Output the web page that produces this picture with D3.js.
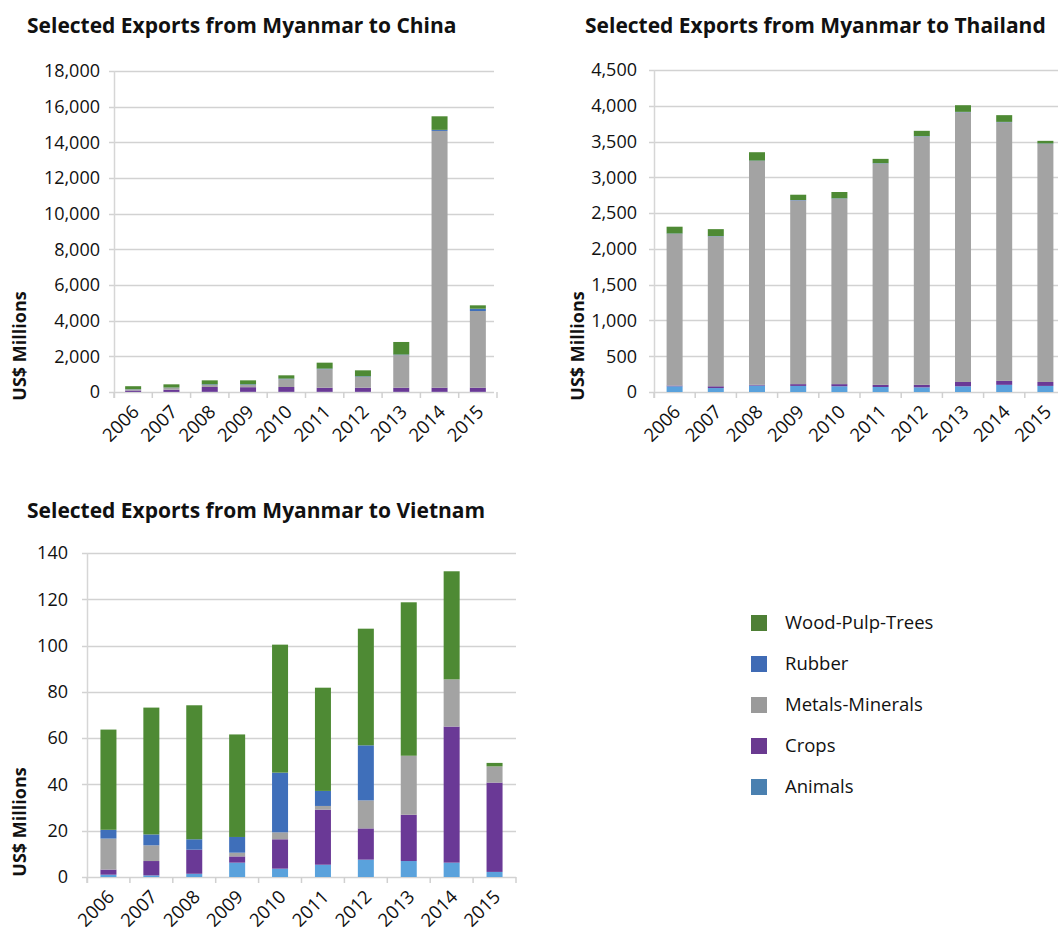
<!DOCTYPE html>
<html>
<head>
<meta charset="utf-8">
<script src="https://cdn.jsdelivr.net/npm/d3@7"></script>
<style>
  html, body { margin: 0; padding: 0; background: #ffffff; }
  svg { display: block; }
  text { font-family: "Open Sans", "Noto Sans", sans-serif; fill: #111; }
</style>
</head>
<body>
<svg id="chart" width="1058" height="934"></svg>
<script>
// ---------- DATA ----------
const years = ["2006","2007","2008","2009","2010","2011","2012","2013","2014","2015"];
const seriesNames = ["Animals","Crops","Metals-Minerals","Rubber","Wood-Pulp-Trees"]; // stack order bottom -> top
const seriesColors = ["#5aa2dc","#6a3996","#a3a3a3","#3f6fba","#4e8a34"];
const legendNames = ["Wood-Pulp-Trees","Rubber","Metals-Minerals","Crops","Animals"];
const legendColors = ["#4e7f35","#3f6bb5","#9a9a9a","#6a3a90","#4a80b0"];

// China (US$ millions)
const chinaAnimals = [5, 5, 10, 10, 10, 10, 10, 10, 10, 10];
const chinaCrops   = [80, 125, 270, 260, 270, 230, 230, 230, 230, 230];
const chinaMetals  = [60, 110, 120, 130, 440, 1040, 610, 1830, 14400, 4300];
const chinaRubber  = [10, 10, 30, 30, 30, 30, 30, 30, 60, 130];
const chinaWood    = [170, 180, 224, 224, 185, 335, 335, 705, 760, 190];
const chinaTicks   = [0, 2000, 4000, 6000, 8000, 10000, 12000, 14000, 16000, 18000];

// Thailand (US$ millions)
const thaiAnimals = [80, 55, 90, 85, 80, 70, 65, 80, 100, 85];
const thaiCrops   = [10, 25, 10, 25, 30, 30, 35, 60, 55, 55];
const thaiMetals  = [2120, 2093, 3129, 2568, 2591, 3092, 3470, 3770, 3615, 3328];
const thaiRubber  = [5, 5, 5, 5, 5, 5, 5, 5, 5, 5];
const thaiWood    = [95, 98, 117, 74, 89, 61, 75, 93, 94, 37];
const thaiTicks   = [0, 500, 1000, 1500, 2000, 2500, 3000, 3500, 4000, 4500];

// Vietnam (US$ millions)
const vietAnimals = [1.0, 0.7, 1.4, 6.2, 3.6, 5.3, 7.5, 6.9, 6.2, 2.2];
const vietCrops   = [2.2, 6.2, 10.4, 2.7, 12.7, 23.8, 13.5, 20.0, 58.8, 38.6];
const vietMetals  = [13.4, 6.8, 0.0, 1.6, 3.0, 1.6, 12.1, 25.5, 20.4, 7.0];
const vietRubber  = [3.8, 4.7, 4.5, 6.8, 25.8, 6.5, 23.8, 0.0, 0.0, 0.0];
const vietWood    = [43.3, 54.8, 57.9, 44.3, 55.3, 44.6, 50.4, 66.3, 46.7, 1.5];
const vietTicks   = [0, 20, 40, 60, 80, 100, 120, 140];

// ---------- DRAW ----------
const svg = d3.select("#chart");
const fmt = d3.format(",");

function drawChart(cfg) {
  const g = svg.append("g");
  const rows = years.map((yr, i) => {
    const r = { year: yr };
    seriesNames.forEach((s, k) => { r[s] = cfg.series[k][i]; });
    return r;
  });
  const stack = d3.stack().keys(seriesNames)(rows);

  const x = d3.scaleBand().domain(years).range([cfg.x0, cfg.x1]).paddingInner(0).paddingOuter(0);
  const y = d3.scaleLinear().domain([0, d3.max(cfg.ticks)]).range([cfg.y0, cfg.y1]);
  const barW = 16;

  // title
  g.append("text").attr("x", cfg.titleX).attr("y", cfg.titleY)
    .attr("font-size", 21).attr("font-weight", 700).text(cfg.title);

  // gridlines
  g.append("g").selectAll("line").data(cfg.ticks).join("line")
    .attr("x1", cfg.x0 - 5).attr("x2", cfg.gridEnd)
    .attr("y1", d => Math.round(y(d)) + 0.5).attr("y2", d => Math.round(y(d)) + 0.5)
    .attr("stroke", "#d2d2d2").attr("stroke-width", 1.5);

  // y axis line
  g.append("line").attr("x1", cfg.x0 + 0.5).attr("x2", cfg.x0 + 0.5)
    .attr("y1", cfg.y1).attr("y2", cfg.y0 + 6)
    .attr("stroke", "#d6d6d6").attr("stroke-width", 1.5);

  // y tick labels
  g.append("g").selectAll("text").data(cfg.ticks).join("text")
    .attr("x", cfg.labelRight).attr("y", d => y(d)).attr("dy", "0.35em")
    .attr("text-anchor", "end").attr("font-size", 18)
    .text(d => fmt(d));

  // x ticks
  const edges = years.map(yr => x(yr)).concat([cfg.x1]);
  g.append("g").selectAll("line").data(edges).join("line")
    .attr("x1", d => d).attr("x2", d => d)
    .attr("y1", cfg.y0).attr("y2", cfg.y0 + 6)
    .attr("stroke", "#d0d0d0").attr("stroke-width", 1.5);

  // bars
  g.append("g").selectAll("g").data(stack).join("g")
    .attr("fill", (d, k) => seriesColors[k])
    .selectAll("rect").data(d => d).join("rect")
    .attr("x", d => x(d.data.year) + x.bandwidth() / 2 - barW / 2)
    .attr("width", barW)
    .attr("y", d => y(d[1]))
    .attr("height", d => Math.max(0, y(d[0]) - y(d[1])));

  // x labels
  g.append("g").selectAll("text").data(years).join("text")
    .attr("transform", d => `translate(${x(d) + x.bandwidth() / 2 + 7},${cfg.y0 + 21}) rotate(-45)`)
    .attr("text-anchor", "end").attr("font-size", 18.5)
    .text(d => d);

  // y axis title
  g.append("text")
    .attr("transform", `translate(${cfg.axisTitleX},${cfg.axisTitleY}) rotate(-90)`)
    .attr("text-anchor", "middle").attr("font-size", 18).attr("font-weight", 700)
    .text("US$ Millions");
}

drawChart({
  title: "Selected Exports from Myanmar to China", titleX: 27, titleY: 33,
  series: [chinaAnimals, chinaCrops, chinaMetals, chinaRubber, chinaWood],
  ticks: chinaTicks, x0: 114, x1: 497, y0: 392, y1: 71, gridEnd: 494,
  labelRight: 100, axisTitleX: 26, axisTitleY: 346
});

drawChart({
  title: "Selected Exports from Myanmar to Thailand", titleX: 585, titleY: 33,
  series: [thaiAnimals, thaiCrops, thaiMetals, thaiRubber, thaiWood],
  ticks: thaiTicks, x0: 654, x1: 1066, y0: 392, y1: 70, gridEnd: 1058,
  labelRight: 637, axisTitleX: 584, axisTitleY: 346
});

drawChart({
  title: "Selected Exports from Myanmar to Vietnam", titleX: 27, titleY: 518,
  series: [vietAnimals, vietCrops, vietMetals, vietRubber, vietWood],
  ticks: vietTicks, x0: 87, x1: 516, y0: 877, y1: 553, gridEnd: 516,
  labelRight: 68, axisTitleX: 26, axisTitleY: 822
});

// legend
const lg = svg.append("g");
const legY = d3.scaleLinear().domain([0, legendNames.length - 1]).range([623, 787]);
lg.selectAll("rect").data(legendNames).join("rect")
  .attr("x", 751).attr("y", (d, i) => legY(i) - 8).attr("width", 16).attr("height", 16)
  .attr("fill", (d, i) => legendColors[i]);
lg.selectAll("text").data(legendNames).join("text")
  .attr("x", 785).attr("y", (d, i) => legY(i)).attr("dy", "0.35em")
  .attr("font-size", 18.5).text(d => d);
</script>
</body>
</html>
